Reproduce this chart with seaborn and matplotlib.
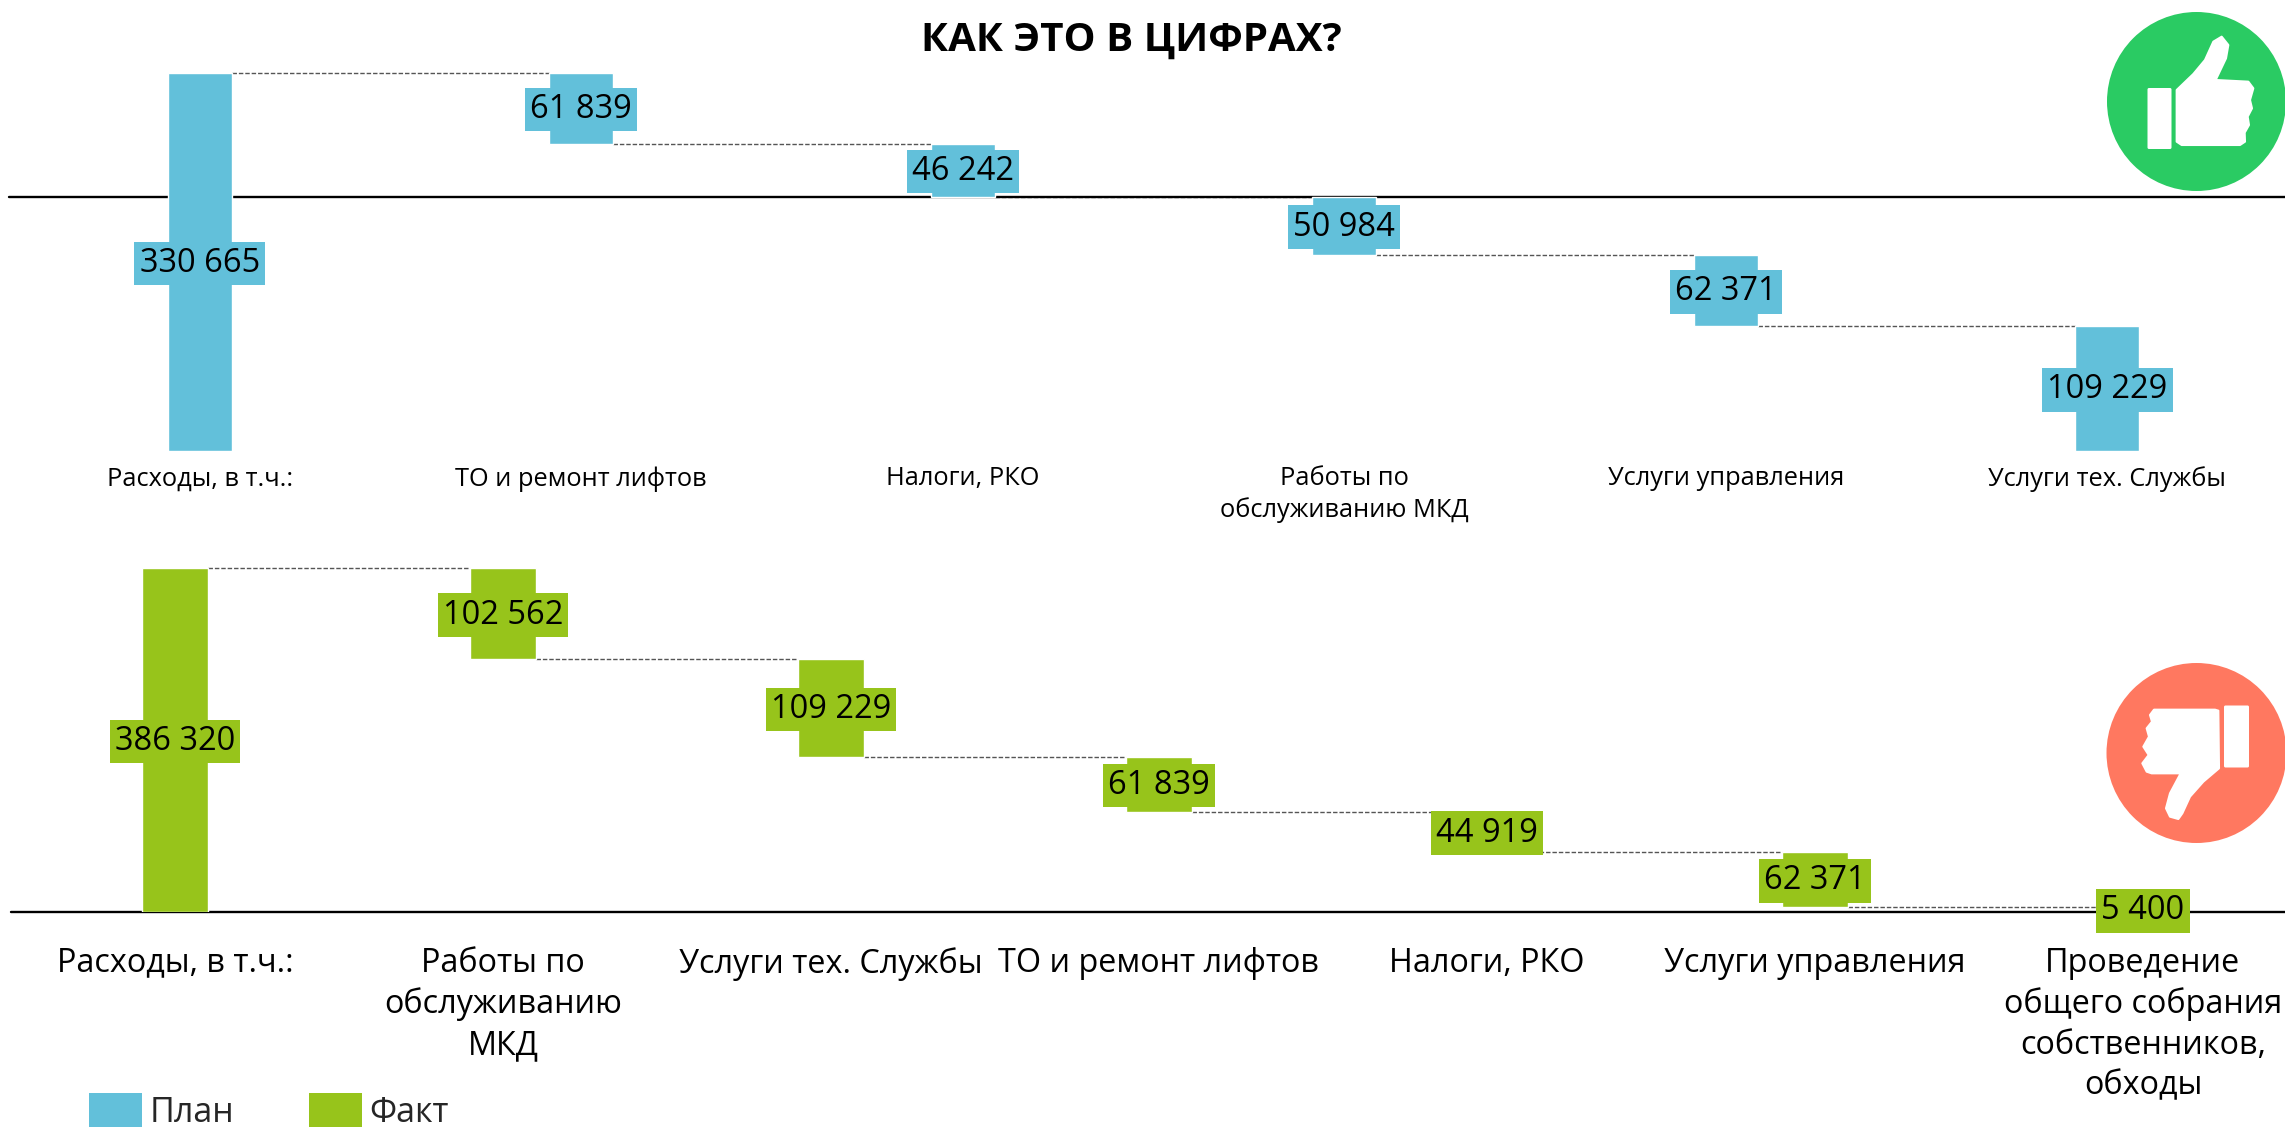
import numpy as np
import pandas as pd
import matplotlib
matplotlib.use("Agg")
import matplotlib.pyplot as plt
from matplotlib.patches import Circle, Polygon, Patch, FancyBboxPatch
import seaborn as sns

title = "КАК ЭТО В ЦИФРАХ?"
plan_cats = ["Расходы, в т.ч.:", "ТО и ремонт лифтов", "Налоги, РКО",
             "Работы по\nобслуживанию МКД", "Услуги управления", "Услуги тех. Службы"]
plan_vals = [330665, 61839, 46242, 50984, 62371, 109229]
fact_cats = ["Расходы, в т.ч.:", "Работы по\nобслуживанию\nМКД", "Услуги тех. Службы",
             "ТО и ремонт лифтов", "Налоги, РКО", "Услуги управления",
             "Проведение\nобщего собрания\nсобственников,\nобходы"]
fact_vals = [386320, 102562, 109229, 61839, 44919, 62371, 5400]
series_names = ["План", "Факт"]
BLUE, GREEN = "#62C0DA", "#97C41B"

sns.set_theme(style="white")
FONT = ["Open Sans", "DejaVu Sans"]
plt.rcParams["font.family"] = FONT
W, H = 2285, 1129
fig = plt.figure(figsize=(W / 100, H / 100), dpi=100, facecolor="white")


def px_axes(left, top, right, bottom):
    return fig.add_axes([left / W, 1 - bottom / H, (right - left) / W, (bottom - top) / H])


def waterfall(ax, cats, vals, color, bar_w, axis_level, tick_fs, pad, linespacing):
    vals = np.array(vals, dtype=float)
    bottoms = np.empty(len(vals))
    bottoms[0] = 0
    bottoms[1:] = vals[0] - np.cumsum(vals[1:])
    df = pd.DataFrame({"cat": cats, "val": vals})
    ax.axhline(axis_level, color="black", lw=1.7, zorder=1, clip_on=False)
    sns.barplot(data=df, x="cat", y="val", bottom=bottoms, color=color, saturation=1,
                width=bar_w, ax=ax, zorder=2)
    # dashed connectors
    for i in range(len(vals) - 1):
        level = bottoms[i + 1] + vals[i + 1]
        ax.plot([i + bar_w / 2, i + 1 - bar_w / 2], [level, level], color="#555555",
                lw=1.0, dashes=(3.2, 1.4), zorder=0.5, clip_on=False)
    # value labels
    for i, v in enumerate(vals):
        txt = f"{int(v):,}".replace(",", " ")
        ax.annotate(txt, (i, bottoms[i] + v / 2), xytext=(0, -1), textcoords="offset points",
                    ha="center", va="center", fontsize=VAL_FS, color="black", zorder=3,
                    family=FONT, bbox=dict(facecolor=color, edgecolor="none", pad=3.8))
    ax.set_xlim(-0.5, len(vals) - 0.5)
    ax.set_ylim(0, vals[0])
    ax.set_xlabel("")
    ax.set_ylabel("")
    ax.set_yticks([])
    ax.tick_params(axis="x", length=0, pad=pad, labelsize=tick_fs, colors="black")
    for lab in ax.get_xticklabels():
        lab.set_linespacing(linespacing)
        lab.set_va("top")
    sns.despine(ax=ax, left=True, bottom=True)
    ax.patch.set_alpha(0)


VAL_FS = 23.5
ax1 = px_axes(9, 73, 9 + 6 * 381.5, 451)
waterfall(ax1, plan_cats, plan_vals, BLUE, 0.168,
          plan_vals[0] - plan_vals[1] - plan_vals[2], 18.3, 11, 1.28)
ax2 = px_axes(11, 568, 11 + 7 * 328, 912)
waterfall(ax2, fact_cats, fact_vals, GREEN, 0.204, 0, 23.3, 25, 1.3)

fig.text(1131 / W, 1 - 40 / H, title, ha="center", va="center", fontsize=29, fontweight="bold",
         color="black", family=FONT)

# legend
handles = [Patch(facecolor=BLUE, edgecolor="none", label=series_names[0]),
           Patch(facecolor=GREEN, edgecolor="none", label=series_names[1])]
fig.legend(handles=handles, loc="lower left", bbox_to_anchor=(86 / W, -4 / H), ncols=2,
           frameon=False, fontsize=24.5, handlelength=1.56, handleheight=1.12,
           handletextpad=0.2, columnspacing=2.2, borderpad=0.1, borderaxespad=0)

# decorative icons, in pixel coordinates
ov = fig.add_axes([0, 0, 1, 1], zorder=10)
ov.set_xlim(0, W)
ov.set_ylim(H, 0)
ov.axis("off")
ov.patch.set_alpha(0)


def icon_poly(points, ox, oy):
    pts = [(ox + x / 3, oy + y / 3) for x, y in points]
    ov.add_patch(Polygon(pts, closed=True, facecolor="white", edgecolor="white",
                         lw=1.5, joinstyle="round"))


ov.add_patch(Circle((2196.5, 101.5), 89.5, facecolor="#2ACB63", edgecolor="none"))
ov.add_patch(FancyBboxPatch((2147.5, 88), 24, 61, boxstyle="round,pad=0,rounding_size=1.5",
                            facecolor="white", edgecolor="none"))
icon_poly([(680, 270), (730, 222), (765, 180), (790, 125), (815, 110), (835, 135), (828, 175),
           (797, 240), (895, 245), (910, 265), (900, 300), (906, 325), (893, 350), (897, 375),
           (884, 398), (885, 425), (870, 435), (695, 435), (680, 425)], 1950, 0)

ov.add_patch(Circle((2196.5, 753), 90, facecolor="#FF7860", edgecolor="none"))
ov.add_patch(FancyBboxPatch((2224, 705.5), 25, 62, boxstyle="round,pad=0,rounding_size=1.5",
                            facecolor="white", edgecolor="none"))
icon_poly([(805, 212), (795, 209), (612, 209), (600, 225), (606, 245), (590, 265), (597, 290),
           (580, 320), (596, 345), (577, 370), (590, 395), (605, 400), (692, 400), (660, 460),
           (648, 505), (660, 530), (685, 537), (697, 520), (720, 470), (760, 425), (807, 385)],
          1950, 640)

fig.savefig("out.png", dpi=100, facecolor="white")
